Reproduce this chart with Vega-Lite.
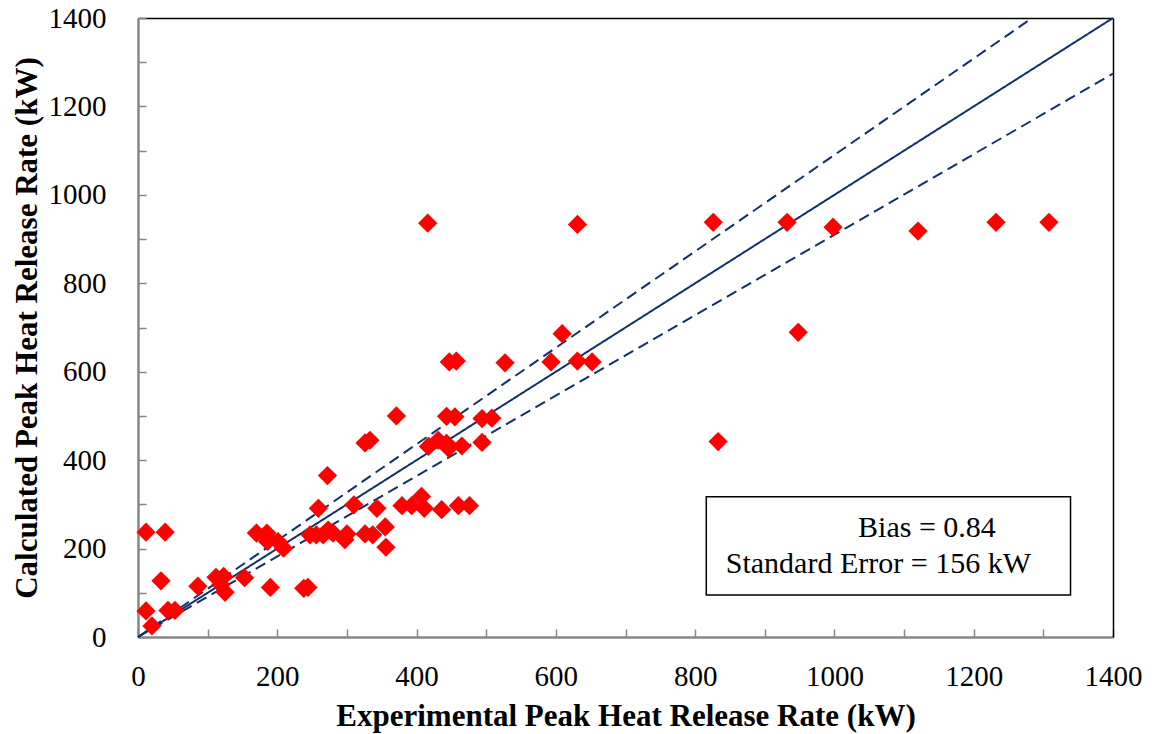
{
  "$schema": "https://vega.github.io/schema/vega-lite/v6.json",
  "width": 975,
  "height": 619,
  "autosize": "none",
  "padding": {"left": 138, "top": 18, "right": 43, "bottom": 97},
  "background": "white",
  "config": {
    "view": {"stroke": null},
    "font": "Liberation Serif",
    "axis": {
      "labelFont": "Liberation Serif",
      "titleFont": "Liberation Serif",
      "labelFontSize": 29,
      "titleFontSize": 31,
      "titleFontWeight": "bold",
      "labelColor": "#000000",
      "titleColor": "#000000",
      "grid": false,
      "domainColor": "#878787",
      "domainWidth": 2.5,
      "tickColor": "#878787",
      "tickWidth": 1.5,
      "tickSize": -8,
      "labelFlush": false,
      "labelOverlap": false
    }
  },
  "datasets": {
    "points": [
      {"exp": 11.5, "calc": 237}, {"exp": 39, "calc": 237}, {"exp": 33, "calc": 127}, {"exp": 11.5, "calc": 59},
      {"exp": 20, "calc": 25}, {"exp": 43, "calc": 60}, {"exp": 53, "calc": 60}, {"exp": 86, "calc": 115},
      {"exp": 112, "calc": 135}, {"exp": 123, "calc": 137}, {"exp": 125, "calc": 101}, {"exp": 119, "calc": 118},
      {"exp": 153, "calc": 134}, {"exp": 190, "calc": 112}, {"exp": 238, "calc": 110}, {"exp": 244, "calc": 112},
      {"exp": 170, "calc": 235}, {"exp": 185, "calc": 235}, {"exp": 187, "calc": 223}, {"exp": 186, "calc": 216},
      {"exp": 201, "calc": 216}, {"exp": 209, "calc": 201}, {"exp": 247, "calc": 231}, {"exp": 256, "calc": 231},
      {"exp": 266, "calc": 231}, {"exp": 273, "calc": 242}, {"exp": 280, "calc": 235}, {"exp": 259, "calc": 291},
      {"exp": 272, "calc": 365}, {"exp": 300, "calc": 233}, {"exp": 297, "calc": 220}, {"exp": 310, "calc": 299},
      {"exp": 326, "calc": 233}, {"exp": 337, "calc": 231}, {"exp": 343, "calc": 291}, {"exp": 355, "calc": 249},
      {"exp": 356, "calc": 203}, {"exp": 326, "calc": 439}, {"exp": 333, "calc": 445}, {"exp": 371, "calc": 500},
      {"exp": 379, "calc": 297}, {"exp": 393, "calc": 297}, {"exp": 407, "calc": 318}, {"exp": 411, "calc": 291},
      {"exp": 436, "calc": 288}, {"exp": 460, "calc": 297}, {"exp": 476, "calc": 297}, {"exp": 417, "calc": 431},
      {"exp": 431, "calc": 445}, {"exp": 443, "calc": 438}, {"exp": 446, "calc": 427}, {"exp": 465, "calc": 432},
      {"exp": 494, "calc": 440}, {"exp": 443, "calc": 499}, {"exp": 455, "calc": 498}, {"exp": 494, "calc": 494},
      {"exp": 508, "calc": 495}, {"exp": 416, "calc": 936}, {"exp": 631, "calc": 933}, {"exp": 609, "calc": 686},
      {"exp": 447, "calc": 622}, {"exp": 457, "calc": 624}, {"exp": 527, "calc": 620}, {"exp": 593, "calc": 622},
      {"exp": 631, "calc": 624}, {"exp": 652, "calc": 622}, {"exp": 826, "calc": 938}, {"exp": 932, "calc": 938},
      {"exp": 998, "calc": 927}, {"exp": 1120, "calc": 918}, {"exp": 1232, "calc": 938}, {"exp": 1308, "calc": 938},
      {"exp": 948, "calc": 689}, {"exp": 833, "calc": 442}
    ],
    "lines": [
      {"series": "1:1", "exp": 0, "calc": 0}, {"series": "1:1", "exp": 1400, "calc": 1400},
      {"series": "upper", "exp": 0, "calc": 0}, {"series": "upper", "exp": 1284, "calc": 1400},
      {"series": "lower", "exp": 0, "calc": 0}, {"series": "lower", "exp": 1400, "calc": 1274}
    ]
  },
  "resolve": {"axis": {"x": "independent", "y": "independent"}},
  "layer": [
    {
      "data": {"name": "lines"},
      "mark": {"type": "line", "color": "#12306A", "strokeWidth": 2},
      "encoding": {
        "x": {
          "field": "exp", "type": "quantitative",
          "scale": {"domain": [0, 1400], "nice": false},
          "axis": {
            "orient": "bottom",
            "values": [0, 100, 200, 300, 400, 500, 600, 700, 800, 900, 1000, 1100, 1200, 1300, 1400],
            "labelExpr": "datum.value % 200 == 0 ? datum.label : ''",
            "format": "d",
            "labelPadding": 33,
            "title": "Experimental Peak Heat Release Rate (kW)",
            "titlePadding": 10
          }
        },
        "y": {
          "field": "calc", "type": "quantitative",
          "scale": {"domain": [0, 1400], "nice": false},
          "axis": {
            "orient": "left",
            "values": [0, 100, 200, 300, 400, 500, 600, 700, 800, 900, 1000, 1100, 1200, 1300, 1400],
            "labelExpr": "datum.value % 200 == 0 ? datum.label : ''",
            "format": "d",
            "labelPadding": 40,
            "title": "Calculated Peak Heat Release Rate (kW)",
            "titlePadding": 5
          }
        },
        "detail": {"field": "series"},
        "strokeDash": {
          "field": "series", "type": "nominal",
          "scale": {"domain": ["1:1", "upper", "lower"], "range": [[1, 0], [11, 6], [11, 6]]},
          "legend": null
        }
      }
    },
    {
      "data": {"name": "points"},
      "mark": {"type": "point", "shape": "diamond", "filled": true, "color": "#FF0000", "opacity": 1, "size": 370},
      "encoding": {
        "x": {"field": "exp", "type": "quantitative", "axis": null},
        "y": {"field": "calc", "type": "quantitative", "axis": null}
      }
    },
    {
      "data": {"values": [{"box": "stats"}]},
      "mark": {"type": "rect", "fill": "white", "stroke": "#000000", "strokeWidth": 1.5},
      "encoding": {
        "x": {"datum": 816, "type": "quantitative", "axis": {"orient": "top", "labels": false, "ticks": false, "title": null, "domainColor": "#000000", "domainWidth": 1.5}},
        "x2": {"datum": 1339},
        "y": {"datum": 95, "type": "quantitative", "axis": {"orient": "right", "labels": false, "ticks": false, "title": null, "domainColor": "#000000", "domainWidth": 1.5}},
        "y2": {"datum": 317}
      }
    },
    {
      "data": {"values": [{"label": "Bias = 0.84"}]},
      "mark": {"type": "text", "align": "left", "baseline": "alphabetic", "fontSize": 30, "font": "Liberation Serif", "color": "#000000"},
      "encoding": {
        "x": {"datum": 1034, "type": "quantitative", "axis": null},
        "y": {"datum": 226, "type": "quantitative", "axis": null},
        "text": {"field": "label"}
      }
    },
    {
      "data": {"values": [{"label": "Standard Error = 156 kW"}]},
      "mark": {"type": "text", "align": "left", "baseline": "alphabetic", "fontSize": 30, "font": "Liberation Serif", "color": "#000000"},
      "encoding": {
        "x": {"datum": 844, "type": "quantitative", "axis": null},
        "y": {"datum": 145, "type": "quantitative", "axis": null},
        "text": {"field": "label"}
      }
    }
  ]
}
